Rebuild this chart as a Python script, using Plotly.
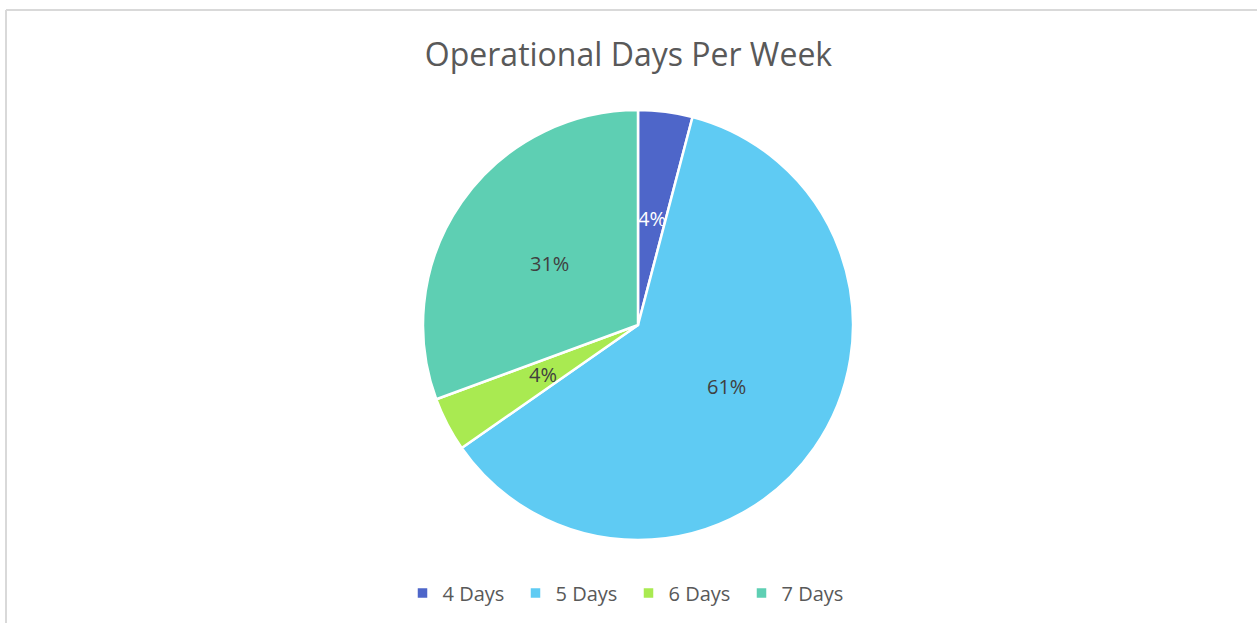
import math
import plotly.graph_objects as go

# data
categories = ["4 Days", "5 Days", "6 Days", "7 Days"]
counts = [2, 30, 2, 15]
colors = ["#4E66C9", "#5FCBF3", "#A9EA51", "#5ECFB3"]
label_colors = ["#FFFFFF", "#404040", "#404040", "#404040"]

W, H = 1257, 623
cx, cy, r = 638, 325, 215

fig = go.Figure(go.Pie(
    labels=categories,
    values=counts,
    sort=False,
    direction="clockwise",
    rotation=0,
    marker=dict(colors=colors, line=dict(color="white", width=2.5)),
    textinfo="none",
    hoverinfo="label+percent+value",
    domain=dict(x=[(cx - r) / W, (cx + r) / W], y=[1 - (cy + r) / H, 1 - (cy - r) / H]),
))

# Excel-style data labels: at half the radius on each slice's mid angle
total = sum(counts)
cum = 0
for name, v, col in zip(categories, counts, label_colors):
    mid = (cum + v / 2) / total * 2 * math.pi
    cum += v
    px = cx + 0.5 * r * math.sin(mid)
    py = cy - 0.5 * r * math.cos(mid)
    fig.add_annotation(x=px / W, y=1 - py / H, xref="paper", yref="paper",
                       text=f"{round(100 * v / total)}%", showarrow=False,
                       font=dict(size=20, color=col, family="Open Sans"))

fig.update_layout(
    width=W, height=H,
    margin=dict(l=0, r=0, t=0, b=0),
    paper_bgcolor="white",
    font=dict(family="Open Sans", color="#595959"),
    title=dict(text="Operational Days Per Week", x=0.5, xanchor="center",
               y=1 - 55 / H, yanchor="middle",
               font=dict(size=32, color="#595959", family="Open Sans")),
    legend=dict(orientation="h", x=0.5, xanchor="center", y=1 - 593 / H, yanchor="middle",
                font=dict(size=20, color="#595959"), itemwidth=30, entrywidth=68),
    shapes=[
        dict(type="line", xref="paper", yref="paper", x0=6 / W, x1=1.0, y0=1 - 10 / H, y1=1 - 10 / H,
             line=dict(color="#D9D9D9", width=2)),
        dict(type="line", xref="paper", yref="paper", x0=6 / W, x1=6 / W, y0=0, y1=1 - 10 / H,
             line=dict(color="#D9D9D9", width=2)),
    ],
)

fig.write_html("out.html", config={"displayModeBar": False},
               post_script="document.body.style.margin='0';")
